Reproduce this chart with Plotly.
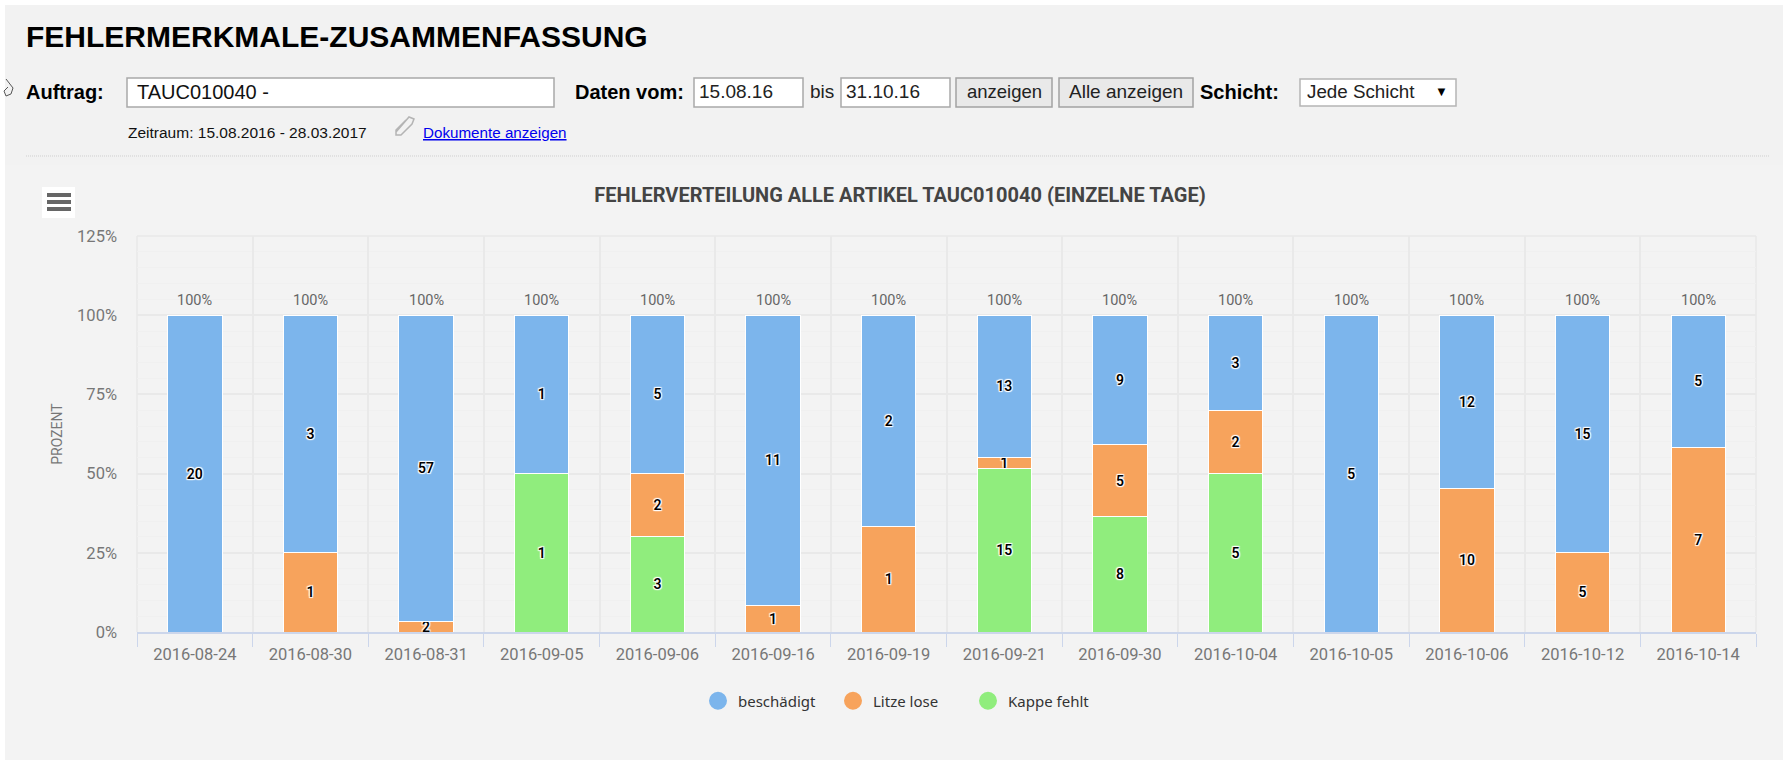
import plotly.graph_objects as go

dates = ["2016-08-24", "2016-08-30", "2016-08-31", "2016-09-05", "2016-09-06", "2016-09-16", "2016-09-19",
         "2016-09-21", "2016-09-30", "2016-10-04", "2016-10-05", "2016-10-06", "2016-10-12", "2016-10-14"]
beschaedigt = [20, 3, 57, 1, 5, 11, 2, 13, 9, 3, 5, 12, 15, 5]
litze_lose = [0, 1, 2, 0, 2, 1, 1, 1, 5, 2, 0, 10, 5, 7]
kappe_fehlt = [0, 0, 0, 1, 3, 0, 0, 15, 8, 5, 0, 0, 0, 0]
y_ticks = [0, 25, 50, 75, 100, 125]

BLUE, ORANGE, GREEN = "#7cb5ec", "#f7a35c", "#90ed7d"
W, H = 1783, 760
L, R, T, B = 137, 1756, 236, 632
CHART_FONT = "Roboto, sans-serif"
PAGE_FONT = "Liberation Sans, Arial, sans-serif"
GRID = "#e9e9e9"


def px(x):
    return (x - L) / (R - L)


def py(y):
    return 1 - (y - T) / (B - T)


shapes, notes = [], []


def rect(x0, y0, x1, y1, fill, line=None, lw=1, layer="above"):
    shapes.append(dict(type="rect", xref="paper", yref="paper", x0=px(x0), x1=px(x1), y0=py(y0), y1=py(y1),
                       fillcolor=fill, line=dict(color=line or fill, width=lw if line else 0), layer=layer))


def label(x, y, text, size, color="#000", anchor="left", font=PAGE_FONT):
    notes.append(dict(xref="paper", yref="paper", x=px(x), y=py(y), text=text, showarrow=False, xanchor=anchor,
                      yanchor="middle", align="left", borderpad=0, borderwidth=0,
                      font=dict(family=font, size=size, color=color)))


def path(d_pts, color, width=1, fill="rgba(0,0,0,0)", closed=False):
    d = "M" + " L".join(f"{px(a):.5f},{py(b):.5f}" for a, b in d_pts) + (" Z" if closed else "")
    shapes.append(dict(type="path", xref="paper", yref="paper", path=d, fillcolor=fill,
                       line=dict(color=color, width=width)))


# page chrome
rect(5, 165, W, H, "#f3f3f3", layer="below")
rect(0, 0, W, 5, "#ffffff")
rect(0, 0, 5, H, "#ffffff")
label(26, 37, "<b>FEHLERMERKMALE-ZUSAMMENFASSUNG</b>", 30)
label(26, 92, "<b>Auftrag:</b>", 20)
rect(127, 78, 554, 107, "#ffffff", "#a9a9a9", 1.5)
label(137, 92, "TAUC010040 -", 20, "#111")
label(575, 92, "<b>Daten vom:</b>", 20)
rect(694, 78, 803, 107, "#ffffff", "#a9a9a9", 1.5)
label(699, 92, "15.08.16", 19, "#222")
label(810, 92, "bis", 19, "#222")
rect(841, 78, 950, 107, "#ffffff", "#a9a9a9", 1.5)
label(846, 92, "31.10.16", 19, "#222")
rect(956, 78, 1052, 107, "#e9e9e9", "#a3a3a3", 1.5)
label(1004, 92, "anzeigen", 18.5, "#222", "center")
rect(1059, 78, 1193, 107, "#e9e9e9", "#a3a3a3", 1.5)
label(1126, 92, "Alle anzeigen", 19, "#222", "center")
label(1200, 92, "<b>Schicht:</b>", 20)
rect(1300, 79, 1456, 106, "#ffffff", "#b5b5b5", 1.5)
label(1307, 92, "Jede Schicht", 18.8, "#222")
label(1441, 91, "▼", 13, "#000", "center")
label(128, 132, "Zeitraum: 15.08.2016 - 28.03.2017", 15.5, "#111")
label(423, 132, "<u>Dokumente anzeigen</u>", 15.2, "#0000ee")
path([(396, 132), (409, 117), (414, 119), (412, 124), (401, 135), (396, 135), (396, 130), (406, 120)], "#b4b4b4", 1.5)
path([(6, 79), (13, 88), (11, 94), (6, 96), (4, 91), (8, 87)], "#555", 1)
shapes.append(dict(type="line", xref="paper", yref="paper", x0=px(26), x1=px(1770), y0=py(156), y1=py(156),
                   line=dict(color="#cfcfcf", width=1, dash="1px,1px")))
rect(42, 187, 75, 218, "#ffffff")
for yy in (195, 202, 209):
    rect(47, yy - 2, 71, yy + 2, "#666666")

# plot frame lines that sit on the axis range edges
for x0, y0, x1, y1 in ((L, T, R, T), (L, T, L, B), (R, T, R, B)):
    shapes.append(dict(type="line", xref="paper", yref="paper", x0=px(x0), x1=px(x1), y0=py(y0), y1=py(y1),
                       line=dict(color=GRID, width=1.5), layer="below"))

fig = go.Figure()
text_font = dict(family=CHART_FONT, size=14, color="#000", weight=600,
                 shadow="1px 1px 1px #fff, -1px -1px 1px #fff, 1px -1px 1px #fff, -1px 1px 1px #fff, 0 0 2px #fff")
for name, vals, col in (("Kappe fehlt", kappe_fehlt, GREEN), ("Litze lose", litze_lose, ORANGE),
                        ("beschädigt", beschaedigt, BLUE)):
    fig.add_bar(x=dates, y=vals, name=name, showlegend=False, text=[str(v) if v else "" for v in vals],
                textposition="inside", insidetextanchor="middle", textangle=0, constraintext="none",
                insidetextfont=text_font, marker=dict(color=col, line=dict(color="#ffffff", width=1)))

# circular legend keys
for name, col in (("beschädigt", BLUE), ("Litze lose", ORANGE), ("Kappe fehlt", GREEN)):
    fig.add_scatter(x=[None], y=[None], mode="markers", name=name,
                    marker=dict(color=col, size=16, symbol="circle", line=dict(color=col, width=2)))

totals = [a + b + c for a, b, c in zip(beschaedigt, litze_lose, kappe_fehlt)]
for d, t in zip(dates, totals):
    notes.append(dict(x=d, y=100 * t / t, xref="x", yref="y", yshift=15, text=f"{100 * t / t:.0f}%", showarrow=False,
                      xanchor="center", yanchor="middle", font=dict(family=CHART_FONT, size=14.5, color="#666")))

fig.update_layout(
    width=W, height=H, autosize=False, margin=dict(l=L, r=W - R, t=T, b=H - B, pad=0),
    paper_bgcolor="#f2f2f2", plot_bgcolor="rgba(0,0,0,0)",
    barmode="stack", barnorm="percent", bargap=0.53, hovermode=False,
    title=dict(text="<b>FEHLERVERTEILUNG ALLE ARTIKEL TAUC010040 (EINZELNE TAGE)</b>",
               x=900 / W, xanchor="center", xref="container", y=1 - 195 / H, yanchor="middle", yref="container",
               font=dict(family=CHART_FONT, size=20, color="#444")),
    xaxis=dict(type="category", categoryorder="array", categoryarray=dates, tickson="boundaries", ticks="outside",
               ticklen=13, tickcolor="#ccd6eb", tickwidth=1, showline=True, linecolor="#ccd6eb", linewidth=2,
               showgrid=True, gridcolor=GRID, gridwidth=1.5, ticklabelstandoff=6,
               tickfont=dict(family=CHART_FONT, size=16.5, color="#777")),
    yaxis=dict(range=[0, 125], tickvals=y_ticks, ticktext=[f"{v}%" for v in y_ticks], showgrid=True,
               gridcolor=GRID, gridwidth=1.5, zeroline=False, ticks="", ticklabelstandoff=19,
               tickfont=dict(family=CHART_FONT, size=16.5, color="#777"),
               minor=dict(dtick=5, showgrid=True, gridcolor="#f0f0f0", gridwidth=1),
               title=dict(text="PROZENT", font=dict(family=CHART_FONT, size=14, color="#777"), standoff=11)),
    legend=dict(orientation="h", x=px(698), y=py(701), xanchor="left", yanchor="middle", bgcolor="rgba(0,0,0,0)",
                traceorder="normal", entrywidth=90, entrywidthmode="pixels", itemclick=False, itemdoubleclick=False,
                font=dict(family="Noto Sans, sans-serif", size=15, color="#333")),
    shapes=shapes, annotations=notes,
)

fig.write_html("out.html", config=dict(displayModeBar=False),
               post_script="document.body.style.margin='0';document.body.style.overflow='hidden';")
